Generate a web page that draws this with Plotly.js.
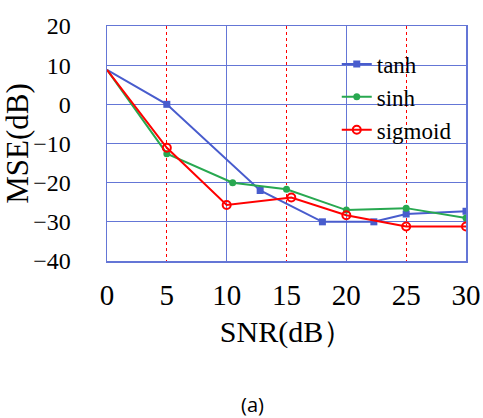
<!DOCTYPE html>
<html>
<head>
<meta charset="utf-8">
<script src="https://cdn.plot.ly/plotly-3.0.1.min.js"></script>
<style>
  html, body { margin: 0; padding: 0; background: #fff; }
  #wrap { position: relative; width: 483px; height: 418px; }
  #chart { width: 483px; height: 418px; }
  #caption { position: absolute; left: 202px; width: 101px; top: 391px; line-height: 28px;
             text-align: center; font-family: 'Open Sans'; font-size: 20px; color: #000; }
  .js-plotly-plot svg text { font-family: 'Liberation Serif' !important; }
</style>
</head>
<body>
<div id="wrap">
  <div id="chart"></div>
  <div id="caption"></div>
</div>
<script>
// ---- data ----
const tanhX = [0, 5, 12.8, 18, 22.3, 25, 30];
const tanhY = [8.8, 0, -22, -30, -30, -28, -27.3];

const sinhX = [0, 5, 10.5, 15, 20, 25, 30];
const sinhY = [8.8, -12.6, -20, -21.7, -27, -26.5, -29];

const sigmoidX = [0, 5, 10, 15.4, 20, 25, 30];
const sigmoidY = [8.8, -11.1, -25.7, -23.8, -28.3, -31.2, -31.2];

const xTicksSolid = [0, 10, 20, 30];   // labelled ticks with solid blue grid
const xTicksDotted = [5, 15, 25];      // labelled ticks with red dotted grid
const yTicks = [-40, -30, -20, -10, 0, 10, 20];

const xTitle = 'SNR(dB）';
const yTitle = 'MSE(dB)';
const caption = '(a)';

// ---- styles ----
const gridBlue = 'rgb(100,118,214)';
const serif = 'Liberation Serif';

// the shared starting point carries no marker: markers on points 1..n only
const withoutFirst = xs => xs.map((v, i) => i).slice(1);
const hideFirst = { selected: { marker: { opacity: 1 } }, unselected: { marker: { opacity: 0 } } };

const traces = [
  Object.assign({
    x: tanhX, y: tanhY, name: 'tanh', mode: 'lines+markers',
    line: { color: 'rgb(72,92,205)', width: 2 },
    marker: { symbol: 'square', size: 7, color: 'rgb(72,92,205)' },
    selectedpoints: withoutFirst(tanhX)
  }, hideFirst),
  Object.assign({
    x: sinhX, y: sinhY, name: 'sinh', mode: 'lines+markers',
    line: { color: 'rgb(40,168,80)', width: 2 },
    marker: { symbol: 'circle', size: 7, color: 'rgb(40,168,80)' },
    selectedpoints: withoutFirst(sinhX)
  }, hideFirst),
  Object.assign({
    x: sigmoidX, y: sigmoidY, name: 'sigmoid', mode: 'lines+markers', xaxis: 'x2',
    line: { color: 'rgb(255,0,0)', width: 2 },
    marker: { symbol: 'circle-open', size: 8, color: 'rgb(255,0,0)', line: { width: 2 } },
    selectedpoints: withoutFirst(sigmoidX)
  }, hideFirst)
];

const tickFontX = { family: serif, size: 29, color: '#000' };
const tickFontY = { family: serif, size: 24, color: '#000' };

const layout = {
  width: 483, height: 418,
  margin: { l: 107, r: 17, t: 26, b: 157 },
  paper_bgcolor: '#fff', plot_bgcolor: '#fff',
  font: { family: serif, color: '#000' },
  showlegend: true,
  legend: {
    x: 0.64, y: 0.93, xanchor: 'left', yanchor: 'top',
    bgcolor: 'rgba(0,0,0,0)', borderwidth: 0,
    font: { family: serif, size: 23, color: '#000' },
    tracegroupgap: 0
  },
  xaxis: {
    range: [0, 30], tickmode: 'array', tickvals: xTicksSolid,
    showgrid: true, gridcolor: gridBlue, gridwidth: 1.5,
    minor: { tickmode: 'array', tickvals: xTicksDotted, showgrid: true,
             gridcolor: 'rgb(255,0,0)', griddash: 'dot', gridwidth: 1, ticks: '' },
    zeroline: false,
    showline: true, linecolor: gridBlue, linewidth: 1.5, mirror: true,
    ticks: '', ticklabelstandoff: 8,
    tickfont: tickFontX,
    title: { text: xTitle, font: { family: serif, size: 30, color: '#000' }, standoff: 10 },
    fixedrange: true
  },
  xaxis2: {
    overlaying: 'x', anchor: 'y', side: 'bottom',
    range: [0, 30], tickmode: 'array', tickvals: xTicksDotted,
    showgrid: false, zeroline: false, showline: false,
    ticks: '', ticklabelstandoff: 14,
    tickfont: tickFontX,
    fixedrange: true
  },
  yaxis: {
    range: [-40, 20], tickmode: 'array', tickvals: yTicks,
    showgrid: true, gridcolor: gridBlue, gridwidth: 1,
    zeroline: true, zerolinecolor: gridBlue, zerolinewidth: 1,
    showline: true, linecolor: gridBlue, linewidth: 1.5, mirror: true,
    ticks: '', ticklabelstandoff: 30,
    tickfont: tickFontY,
    title: { text: yTitle, font: { family: serif, size: 31, color: '#000' }, standoff: 4 },
    fixedrange: true
  }
};

document.getElementById('caption').textContent = caption;
Plotly.newPlot('chart', traces, layout, { displayModeBar: false, staticPlot: true });
</script>
</body>
</html>
